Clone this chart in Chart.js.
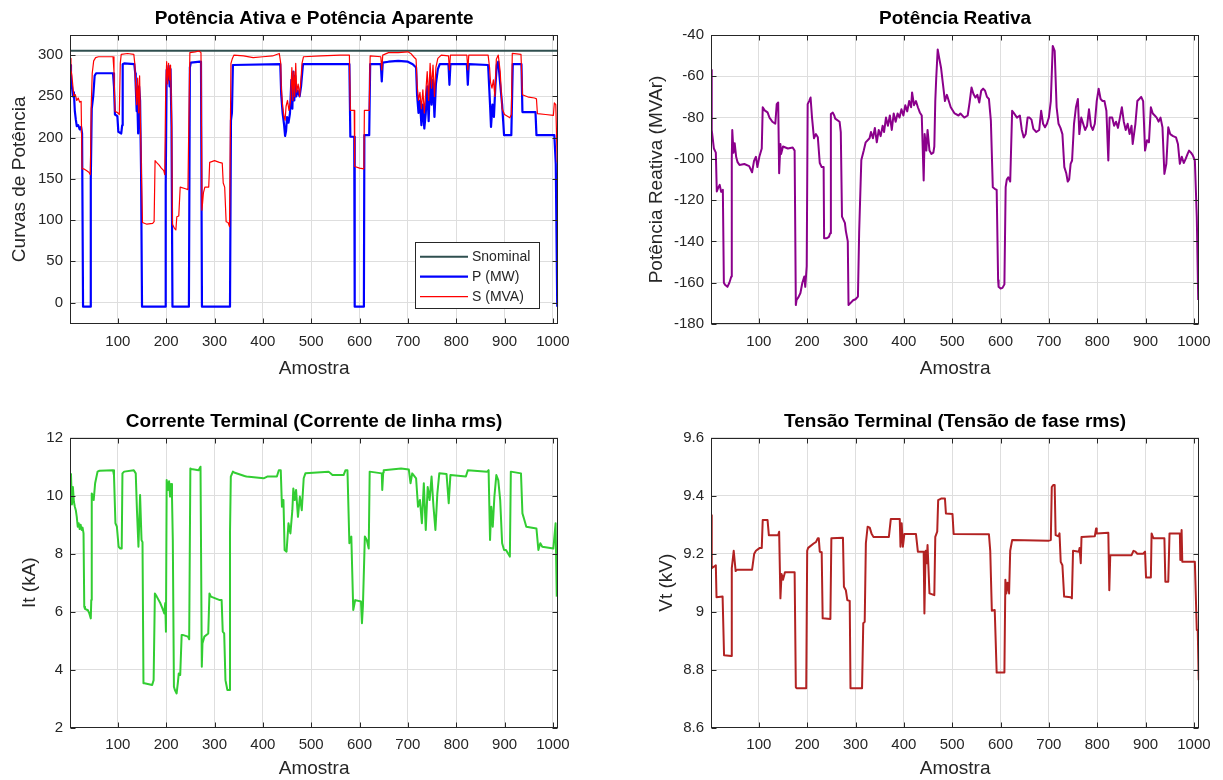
<!DOCTYPE html>
<html>
<head>
<meta charset="utf-8">
<title>Curvas do gerador</title>
<script src="https://cdn.jsdelivr.net/npm/chart.js@4.4.1/dist/chart.umd.min.js"></script>
<style>
  html, body { margin: 0; padding: 0; background: #ffffff; }
  body { width: 1223px; height: 780px; position: relative; overflow: hidden; }
  canvas { position: absolute; }
</style>
</head>
<body>
<canvas id="chartPotencia" width="611" height="390" style="left:0;top:0"></canvas>
<canvas id="chartReativa" width="612" height="390" style="left:611px;top:0"></canvas>
<canvas id="chartCorrente" width="611" height="390" style="left:0;top:390px"></canvas>
<canvas id="chartTensao" width="612" height="390" style="left:611px;top:390px"></canvas>
<script>
// ---- data (amostra, valor) ----
const sampleRange = [1, 1011];
const sampleTicks = [100, 200, 300, 400, 500, 600, 700, 800, 900, 1000];

const sNominal = 305.3;

// P (MW)
const pPoints = [
  [1,288],[3,268],[5,262],[7,250],[9,255],[11,232],[13,222],[15,214],[18,215],[21,210],[24,213],[26,205],
  [28,-5],[43,-5],[44,150],[46,235],[49,250],[52,275],[55,278],[90,278],[92,262],[94,228],[99,226],
  [101,207],[107,205],[109,215],[110,289],[113,290],[134,289],[136,278],[137,262],[139,232],[140,250],
  [142,205],[144,262],[146,245],[148,160],[150,-5],[198,-5],[199,142],[201,282],[203,270],[205,287],
  [207,262],[209,283],[211,213],[213,-5],[247,-5],[249,285],[251,291],[270,292],[272,291],[274,-5],
  [332,-5],[334,221],[336,230],[338,288],[436,289],[438,252],[441,229],[444,215],[446,202],[448,208],
  [450,225],[453,218],[456,229],[459,270],[461,235],[463,280],[465,245],[467,275],[469,250],[472,257],
  [476,250],[479,262],[483,289],[579,289],[581,201],[589,201],[590,-5],[609,-5],[610,203],[620,203],
  [622,289],[644,289],[646,268],[648,291],[660,292],[680,293],[700,292],[710,289],[717,285],[719,252],
  [722,230],[725,245],[728,215],[731,240],[734,211],[737,230],[740,262],[743,220],[746,275],[749,240],
  [752,270],[755,225],[758,265],[762,283],[766,289],[784,289],[786,264],[788,289],[822,289],[824,264],
  [826,289],[866,288],[870,240],[872,213],[875,240],[878,225],[881,262],[884,288],[887,292],[891,265],
  [895,240],[899,203],[914,203],[917,289],[935,289],[937,231],[964,231],[966,203],[1003,203],[1006,168],
  [1009,-5]
];

// S (MVA)
const sPoints = [
  [1,296],[3,282],[5,275],[7,262],[9,250],[12,252],[15,245],[18,248],[21,243],[24,244],[26,162],[30,162],
  [35,160],[40,158],[43,155],[45,240],[47,278],[50,293],[54,297],[60,298],[90,298],[92,280],[94,232],
  [100,230],[103,228],[105,290],[107,301],[120,302],[133,301],[135,290],[137,262],[139,240],[141,272],
  [143,230],[145,275],[147,210],[149,150],[151,97],[160,95],[172,96],[175,98],[177,172],[180,170],
  [185,167],[190,163],[195,160],[197,155],[199,260],[201,292],[203,265],[205,290],[207,270],[209,288],
  [211,230],[213,95],[217,90],[220,88],[222,104],[226,105],[229,140],[240,138],[245,137],[247,225],
  [249,303],[260,304],[268,305],[272,303],[274,112],[277,133],[280,140],[288,140],[290,170],[300,172],
  [310,170],[316,169],[318,145],[321,140],[324,98],[328,97],[331,92],[334,290],[337,296],[340,300],
  [360,299],[380,297],[400,298],[420,299],[434,302],[437,290],[438,262],[441,237],[444,225],[446,221],
  [448,238],[451,245],[454,233],[457,243],[460,285],[462,245],[464,280],[466,250],[468,290],[470,255],
  [473,265],[476,250],[479,272],[481,290],[484,298],[520,299],[560,300],[579,300],[581,233],[589,233],
  [590,165],[600,163],[609,162],[610,233],[620,233],[622,299],[644,298],[646,282],[648,300],[660,303],
  [680,303],[700,304],[706,302],[712,298],[717,295],[719,265],[722,245],[725,255],[728,235],[731,258],
  [734,230],[737,255],[740,280],[743,245],[746,290],[749,260],[752,288],[755,250],[758,285],[762,296],
  [769,300],[784,299],[786,282],[788,300],[822,300],[824,282],[826,300],[866,300],[869,285],[871,267],
  [874,260],[877,270],[880,250],[883,295],[887,300],[891,280],[895,235],[900,228],[911,224],[914,228],
  [916,302],[934,301],[937,252],[950,249],[962,248],[966,247],[968,229],[985,228],[1001,227],[1003,242],
  [1006,240],[1009,170]
];

// Q (MVAr)
const qPoints = [
  [1,-57],[2.5,-86],[4,-89],[7,-95],[11,-97],[13,-115.8],[16,-114],[19,-112.6],[22,-116],[25.5,-115],
  [27.6,-160],[30,-161],[35,-162],[39,-160],[43,-157],[44,-100],[45,-86],[47.6,-97],[50,-92.4],[53,-99],
  [56,-101.6],[60,-103],[70,-102.5],[80,-103.5],[86,-106.5],[90,-101],[94,-99],[97,-104],[101,-99],
  [106,-95],[108,-75],[112,-76.5],[118,-77.5],[122,-80],[128,-82],[134,-83],[137,-73.5],[140,-72.7],
  [142,-107],[144.6,-92.8],[146,-97.6],[150,-94],[160,-95],[170,-94.5],[174,-96],[176.5,-170.8],
  [178,-168.4],[182,-167],[186,-165],[190,-160],[194,-157],[196,-162],[199,-152],[201,-73.5],[204,-72],
  [207,-70.3],[210,-80],[214,-90],[218,-88],[222,-89.5],[226,-102],[230,-104],[234,-104],[235,-138.5],
  [240,-138.5],[245,-137.8],[247.6,-136],[249,-78.3],[253,-77.6],[256,-79],[258,-80.5],[267,-82],
  [269.5,-87],[272,-128],[278,-131],[280,-135],[284,-140],[285.5,-170.8],[289,-170],[295,-168.5],
  [300,-168],[305,-166.7],[307.5,-135.7],[312,-100.5],[317,-96],[321,-92],[329,-90],[332,-87],[336,-90],
  [340,-85],[344,-92],[348,-86],[352,-89],[356,-84],[359,-87],[363,-80],[367,-84],[371,-79],[375,-86],
  [379,-78],[383,-82],[387,-78],[391,-80],[395,-76],[399,-79],[403,-74],[407,-77],[411,-72],[415,-75],
  [417,-67.8],[421,-74],[425,-72],[429,-75],[433,-77.5],[437,-79],[441,-110.5],[443,-88],[446.5,-96],
  [449,-86],[453,-96],[457,-97.6],[461,-97],[463,-94],[465,-72],[467,-60.6],[470,-47],[473,-51],
  [477,-56],[481,-64],[485,-72],[489,-69],[493,-72],[497,-75],[505,-78],[513,-79],[517,-78],[525,-80],
  [532,-79],[536,-72.7],[540,-65.4],[544,-68.6],[548,-70.3],[552,-69],[556,-72.7],[560,-67],[564,-66],
  [568,-67],[572,-70],[576,-71],[580,-81.5],[584,-113.7],[588,-114.5],[592,-115],[595,-158.8],
  [596,-162],[600,-162.8],[604,-162.5],[608,-160.8],[610.6,-113.7],[613,-110],[616,-108.9],[620,-111],
  [624,-76.7],[628,-78],[634,-80],[640,-79],[644,-86],[648,-89.6],[652,-88],[656,-80],[660,-80],
  [664,-81],[668,-85.5],[674,-87],[680,-86],[684,-76.7],[688,-83],[692,-84.7],[696,-83],[700,-80],
  [704,-72],[708,-45.3],[712,-47.7],[716,-75],[720,-83],[724,-85],[728,-88],[732,-104],[736,-107],
  [739,-111],[742,-110],[745,-102.4],[748,-100.8],[752,-83],[756,-75],[760,-71],[763,-88],[767,-80],
  [771,-83],[775,-86],[779,-84],[783,-76],[787,-84],[791,-86],[795,-83],[799,-72],[803,-66],[807,-71],
  [811,-72],[815,-72],[819,-76.7],[823,-100.8],[825.6,-80],[831,-80],[835,-84],[839,-82],[843,-85],
  [847,-80],[851,-75],[855,-82],[859,-86],[863,-83],[867,-88],[871,-84],[873.4,-92.8],[879,-83],
  [883,-72],[887,-71],[891,-70],[895,-72],[899,-96],[903,-91],[907,-92],[911,-75],[915,-78],[919,-79],
  [923,-80],[927,-82],[931,-80],[935,-84.7],[939,-107.3],[943,-102.4],[947,-84.7],[951,-88],[957,-89],
  [963,-89.6],[967,-92.8],[971,-102.4],[975,-99],[979,-102],[983,-100],[987,-97.6],[990,-96],[994,-97],
  [998,-98.4],[1002,-100.8],[1006,-128],[1009,-168.4]
];

// It (kA)
const itPoints = [
  [1,10.7],[3,10.75],[5,9.7],[7,10.3],[9,9.8],[11,9.62],[13,9.5],[15,9.27],[17,8.93],[19,9.05],[21,8.85],
  [23,9.0],[25,8.82],[27,8.9],[29,8.7],[30.5,6.17],[32,6.1],[38,6.05],[41,5.94],[44,5.77],[45,6.4],
  [46,10.08],[50,9.85],[53,10.43],[58,10.83],[62,10.86],[90,10.88],[92,10.7],[95,9.05],[98,8.93],
  [101.6,8.24],[105,8.18],[108,8.18],[109.5,10.77],[113,10.83],[133,10.88],[137,10.77],[139.5,9.5],
  [142.6,8.24],[146,10.02],[149,8.47],[151,8.4],[153,3.53],[155,3.53],[171,3.47],[174,3.64],[176.6,6.63],
  [180.5,6.52],[188,6.29],[192,6.12],[196,5.94],[198,6.3],[199.5,5.31],[201,10.54],[204,10.2],[206,10.5],
  [208,9.97],[210,10.4],[212,9.97],[213.7,8.47],[216,3.41],[218,3.3],[221.6,3.18],[224,3.53],[226,3.87],
  [229,3.82],[232,5.2],[234,5.2],[245,5.14],[247.6,5.05],[250,10.94],[252,10.92],[267,10.88],[271,11.0],
  [273.7,4.1],[275,4.9],[279,5.14],[287,5.25],[289.5,6.63],[292.6,6.52],[310.8,6.4],[314.7,6.4],
  [317,5.31],[320,5.25],[322.6,3.64],[326.6,3.3],[330.5,3.3],[332,8.7],[333.7,10.66],[338,10.83],
  [342,10.79],[362,10.68],[366,10.66],[401.6,10.6],[409,10.66],[429,10.66],[433,10.88],[437,10.88],
  [439.5,9.62],[442.6,9.85],[445,8.13],[449,8.07],[453,9.05],[457,8.7],[461,9.5],[463,10.25],[466,9.85],
  [468.7,10.2],[472.6,9.27],[476.6,9.97],[480.5,9.5],[484.5,10.6],[488,10.77],[536,10.83],[544,10.71],
  [567,10.71],[571,10.88],[575,10.88],[579,8.36],[583,8.59],[587,6.06],[591,6.4],[603,6.35],[605,5.6],
  [607,6.2],[611,8.59],[615,8.47],[619,8.18],[621,10.83],[646,10.77],[647,10.2],[649,10.8],[650,10.88],
  [686,10.94],[702,10.9],[705.5,10.43],[709,10.77],[717,10.6],[721,9.62],[725,9.85],[729,9.05],
  [733,10.43],[737,8.82],[741,10.3],[745,9.85],[749,10.66],[753,9.62],[757,8.82],[761,10.08],[765,10.77],
  [780,10.75],[784.5,9.74],[788,10.71],[820,10.66],[824,10.88],[864,10.83],[867,10.88],[870,8.47],
  [872.6,9.62],[875.6,8.93],[879,9.97],[883,10.71],[887,10.54],[891,9.85],[895,8.36],[899,8.13],
  [903,8.13],[911,7.9],[913,10.83],[934,10.77],[937,9.39],[940,9.22],[945,8.93],[966,8.87],[970,8.13],
  [974,8.36],[978,8.24],[1001,8.18],[1005.6,9.05],[1008,6.52]
];

// Vt (kV)
const vtPoints = [
  [1,9.333],[2.5,9.15],[11,9.16],[12.4,9.05],[25,9.052],[28,8.85],[43,8.847],[44,9.15],[48,9.21],
  [52,9.14],[55,9.145],[86,9.145],[90.4,9.2],[94,9.21],[102,9.22],[106,9.22],[108,9.316],[118,9.316],
  [120.7,9.264],[140,9.264],[142,9.276],[144.6,9.046],[147,9.13],[150,9.11],[154,9.136],[174,9.136],
  [176.5,8.74],[178,8.736],[198,8.736],[200,9.21],[202,9.22],[214,9.236],[218,9.24],[222,9.253],
  [224,9.253],[226,9.207],[230,9.205],[232,8.977],[248,8.975],[250,9.253],[274,9.255],[276,9.086],
  [280,9.074],[283,9.04],[288,9.037],[289.6,8.736],[313.5,8.736],[316,8.96],[319,8.965],[321.4,9.236],
  [325,9.293],[329.4,9.29],[333,9.27],[337,9.258],[369,9.258],[373,9.32],[391.5,9.32],[393,9.224],
  [395.5,9.305],[398,9.224],[401,9.268],[425,9.268],[429,9.207],[441,9.207],[442.5,8.994],[445,9.21],
  [447,9.167],[449,9.23],[453,9.063],[463,9.057],[465,9.258],[469,9.276],[471,9.385],[477,9.39],
  [485,9.39],[487,9.339],[500.6,9.337],[503,9.268],[576,9.267],[578.7,9.21],[582,9.003],[588,9.006],
  [592,8.79],[608,8.79],[610,9.11],[612,9.063],[614.5,9.1],[617.7,9.063],[620,9.21],[624,9.247],
  [700,9.245],[704,9.247],[706,9.43],[709,9.437],[712,9.437],[714,9.264],[720,9.26],[722,9.27],
  [724.5,9.172],[728,9.16],[731.6,9.052],[745,9.05],[747.6,9.046],[750,9.21],[762,9.207],[763.5,9.22],
  [766,9.167],[767.5,9.258],[795,9.26],[797.7,9.287],[799,9.27],[823,9.272],[825,9.074],[827,9.195],
  [871,9.195],[875,9.21],[879,9.207],[883,9.2],[895,9.2],[899,9.207],[901,9.118],[911,9.118],
  [912.5,9.27],[915,9.258],[917,9.253],[939,9.253],[941,9.103],[947,9.103],[949.6,9.27],[971,9.27],
  [972,9.178],[974.6,9.282],[976,9.172],[1002,9.172],[1006,8.937],[1008,8.937],[1010,8.764]
];

const potTicks = [0, 50, 100, 150, 200, 250, 300];
const reaTicks = [-180, -160, -140, -120, -100, -80, -60, -40];
const corTicks = [2, 4, 6, 8, 10, 12];
const tenTicks = [8.6, 8.8, 9, 9.2, 9.4, 9.6];

// ---- styling ----
const FONT = "'Liberation Sans', Arial, Helvetica, sans-serif";
const INK = '#262626';
const GRID = '#dedede';

const toXY = (pts) => pts.map(([x, y]) => ({ x, y }));
const plainNumber = (v) => String(+Number(v).toFixed(2));

// axis box with inward tick marks on all four sides
const matlabBox = {
  id: 'matlabBox',
  afterDraw(chart) {
    const { ctx, chartArea: a, scales } = chart;
    const L = Math.round(a.left) + 0.5, R = Math.round(a.right) - 0.5;
    const T = Math.round(a.top) + 0.5, B = Math.round(a.bottom) - 0.5;
    const len = 5;
    ctx.save();
    ctx.strokeStyle = INK;
    ctx.lineWidth = 1;
    ctx.beginPath();
    scales.x.ticks.forEach(t => {
      const px = Math.round(scales.x.getPixelForValue(t.value)) + 0.5;
      ctx.moveTo(px, B); ctx.lineTo(px, B - len);
      ctx.moveTo(px, T); ctx.lineTo(px, T + len);
    });
    scales.y.ticks.forEach(t => {
      const py = Math.round(scales.y.getPixelForValue(t.value)) + 0.5;
      ctx.moveTo(L, py); ctx.lineTo(L + len, py);
      ctx.moveTo(R, py); ctx.lineTo(R - len, py);
    });
    ctx.stroke();
    ctx.strokeRect(L, T, R - L, B - T);
    ctx.restore();
  }
};

// boxed legend inside the plot area (lower right)
const boxLegend = {
  id: 'boxLegend',
  afterDatasetsDraw(chart, args, opts) {
    const { ctx, chartArea: a } = chart;
    const x0 = Math.round(a.right - opts.right - opts.width);
    const y0 = Math.round(a.bottom - opts.bottom - opts.height);
    ctx.save();
    ctx.fillStyle = '#ffffff';
    ctx.fillRect(x0, y0, opts.width, opts.height);
    ctx.strokeStyle = INK;
    ctx.lineWidth = 1;
    ctx.strokeRect(x0 + 0.5, y0 + 0.5, opts.width, opts.height);
    ctx.font = '14px ' + FONT;
    ctx.textBaseline = 'middle';
    chart.data.datasets.forEach((ds, i) => {
      const y = y0 + opts.firstRow + i * opts.rowGap;
      ctx.strokeStyle = ds.borderColor;
      ctx.lineWidth = ds.borderWidth;
      ctx.beginPath();
      ctx.moveTo(x0 + 5, y);
      ctx.lineTo(x0 + 53, y);
      ctx.stroke();
      ctx.fillStyle = INK;
      ctx.fillText(ds.label, x0 + 57, y);
    });
    ctx.restore();
  }
};

function buildChart(id, cfg) {
  const plugins = cfg.legend ? [boxLegend, matlabBox] : [matlabBox];
  return new Chart(document.getElementById(id), {
    type: 'line',
    data: { datasets: cfg.datasets },
    options: {
      responsive: false,
      animation: false,
      devicePixelRatio: 1,
      layout: { padding: { left: 0, top: 0, bottom: 0, right: cfg.padRight } },
      elements: {
        point: { radius: 0 },
        line: { tension: 0, borderJoinStyle: 'round' }
      },
      plugins: {
        legend: { display: false },
        tooltip: { enabled: false },
        title: {
          display: true,
          text: cfg.title,
          fullSize: false,
          color: '#000000',
          font: { family: FONT, size: 19, weight: 'bold' },
          padding: { top: cfg.titleTop, bottom: cfg.titleBottom }
        },
        boxLegend: cfg.legend || {}
      },
      scales: {
        x: {
          type: 'linear',
          min: sampleRange[0],
          max: sampleRange[1],
          afterBuildTicks: (s) => { s.ticks = sampleTicks.map(v => ({ value: v })); },
          afterFit: (s) => { s.height = cfg.xHeight; },
          grid: { color: GRID, drawTicks: false },
          border: { display: false },
          ticks: {
            color: INK, font: { family: FONT, size: 15 }, padding: 8.5, maxRotation: 0, autoSkip: false,
            callback: plainNumber
          },
          title: {
            display: true, text: 'Amostra', color: INK,
            font: { family: FONT, size: 19 },
            padding: { top: 0, bottom: cfg.xTitleBottom }
          }
        },
        y: {
          min: cfg.yMin,
          max: cfg.yMax,
          afterBuildTicks: (s) => { s.ticks = cfg.yTicks.map(v => ({ value: v })); },
          afterFit: (s) => { s.width = cfg.yWidth; },
          grid: { color: GRID, drawTicks: false },
          border: { display: false },
          ticks: {
            color: INK, font: { family: FONT, size: 15 }, padding: 7, autoSkip: false,
            callback: plainNumber
          },
          title: {
            display: true, text: cfg.yLabel, color: INK,
            font: { family: FONT, size: 19 },
            padding: { top: cfg.yTitlePad, bottom: 0 }
          }
        }
      }
    },
    plugins
  });
}

buildChart('chartPotencia', {
  title: 'Potência Ativa e Potência Aparente',
  yLabel: 'Curvas de Potência',
  yMin: -26, yMax: 325, yTicks: potTicks,
  yWidth: 70, padRight: 52.8, xHeight: 66,
  titleTop: 7.6, titleBottom: 4.1, xTitleBottom: 10.3, yTitlePad: 8.6,
  legend: { width: 124, height: 66, right: 19, bottom: 16, firstRow: 14.7, rowGap: 20 },
  datasets: [
    { label: 'Snominal', data: sampleRange.map(x => ({ x, y: sNominal })), borderColor: '#2F4F4F', borderWidth: 2, order: 2 },
    { label: 'P (MW)', data: toXY(pPoints), borderColor: '#0000FF', borderWidth: 2.2, order: 1 },
    { label: 'S (MVA)', data: toXY(sPoints), borderColor: '#FF0000', borderWidth: 1.2, order: 0 }
  ]
});

buildChart('chartReativa', {
  title: 'Potência Reativa',
  yLabel: 'Potência Reativa (MVAr)',
  yMin: -180, yMax: -40, yTicks: reaTicks,
  yWidth: 100, padRight: 23.8, xHeight: 66,
  titleTop: 7.6, titleBottom: 4.6, xTitleBottom: 10.3, yTitlePad: 34.3,
  datasets: [
    { label: 'Q (MVAr)', data: toXY(qPoints), borderColor: '#8B008B', borderWidth: 2 }
  ]
});

buildChart('chartCorrente', {
  title: 'Corrente Terminal (Corrente de linha rms)',
  yLabel: 'It (kA)',
  yMin: 2, yMax: 12, yTicks: corTicks,
  yWidth: 70, padRight: 52.8, xHeight: 52.3,
  titleTop: 20.6, titleBottom: 4.3, xTitleBottom: 0, yTitlePad: 18.6,
  datasets: [
    { label: 'It (kA)', data: toXY(itPoints), borderColor: '#32CD32', borderWidth: 2 }
  ]
});

buildChart('chartTensao', {
  title: 'Tensão Terminal (Tensão de fase rms)',
  yLabel: 'Vt (kV)',
  yMin: 8.6, yMax: 9.6, yTicks: tenTicks,
  yWidth: 100, padRight: 23.8, xHeight: 52.3,
  titleTop: 20.6, titleBottom: 4.3, xTitleBottom: 0, yTitlePad: 44,
  datasets: [
    { label: 'Vt (kV)', data: toXY(vtPoints), borderColor: '#B22222', borderWidth: 2 }
  ]
});
</script>
</body>
</html>
